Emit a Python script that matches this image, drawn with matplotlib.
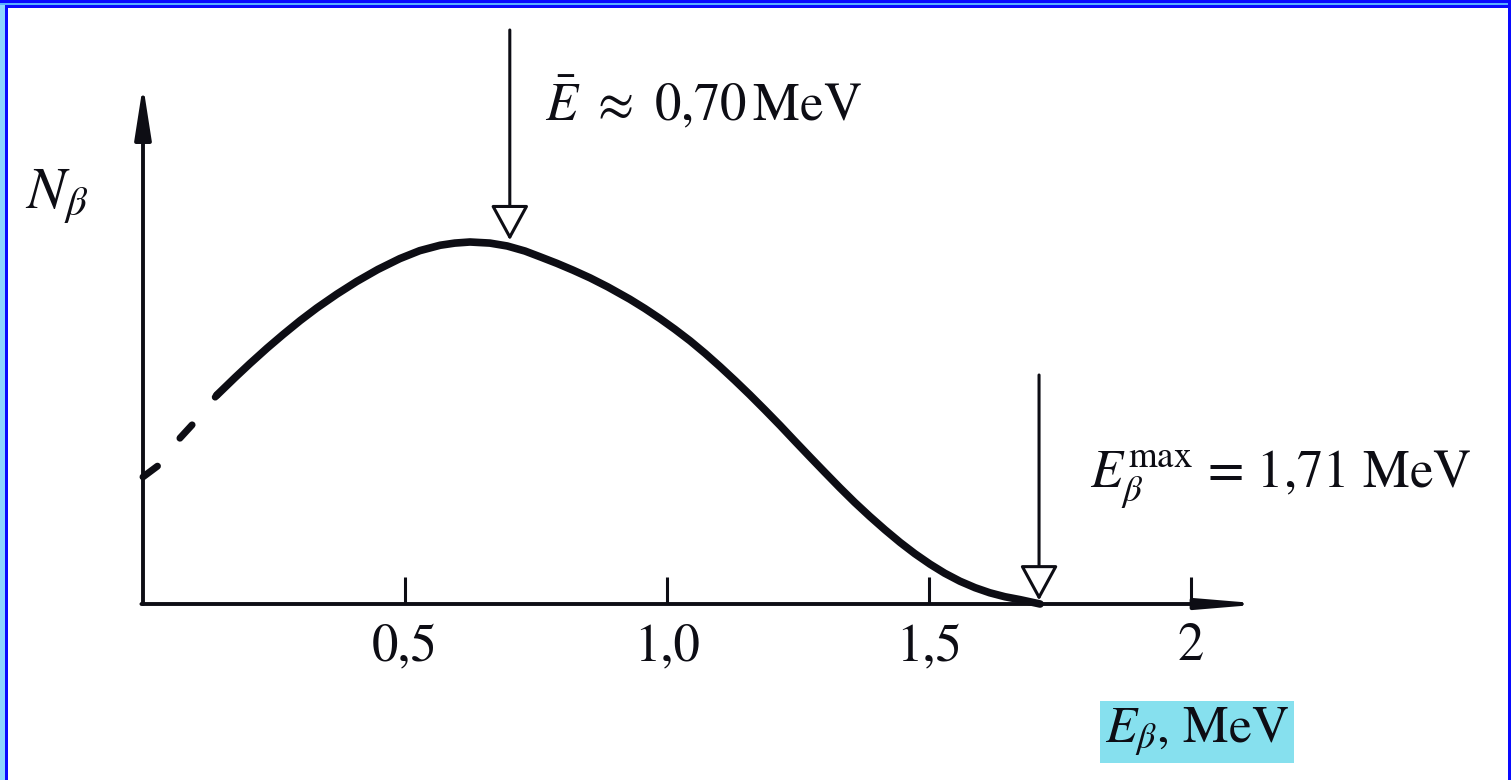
import numpy as np
import matplotlib.pyplot as plt
from matplotlib.patches import Rectangle

plt.rcParams["font.family"] = ["STIXGeneral", "DejaVu Serif"]
plt.rcParams["mathtext.fontset"] = "stix"
plt.rcParams["lines.scale_dashes"] = False

# beta spectrum of P-32 (arbitrary units, peak = 1)
energy_dash = [0.0, 0.038, 0.071, 0.097, 0.141]
counts_dash = [0.351, 0.392, 0.459, 0.500, 0.577]
energy = [0.141, 0.176, 0.204, 0.237, 0.267, 0.300, 0.332, 0.370, 0.408, 0.448,
          0.490, 0.528, 0.567, 0.595, 0.624, 0.662, 0.695, 0.729, 0.758, 0.790,
          0.821, 0.853, 0.887, 0.929, 0.958, 0.987, 1.015, 1.044, 1.073, 1.101,
          1.130, 1.158, 1.187, 1.216, 1.244, 1.273, 1.301, 1.330, 1.358, 1.387,
          1.416, 1.445, 1.473, 1.502, 1.530, 1.559, 1.588, 1.616, 1.645, 1.674,
          1.712]
counts = [0.577, 0.626, 0.664, 0.707, 0.744, 0.783, 0.818, 0.856, 0.891, 0.924,
          0.954, 0.976, 0.991, 0.997, 1.000, 0.997, 0.989, 0.975, 0.959, 0.941,
          0.922, 0.901, 0.876, 0.842, 0.816, 0.788, 0.759, 0.727, 0.692, 0.656,
          0.617, 0.578, 0.536, 0.493, 0.450, 0.406, 0.364, 0.321, 0.281, 0.242,
          0.205, 0.170, 0.139, 0.110, 0.085, 0.063, 0.045, 0.031, 0.020, 0.012,
          0.0]
tick_pos = [0.5, 1.0, 1.5, 2.0]
tick_lab = ["0,5", "1,0", "1,5", "2"]
e_mean = 0.70
e_max = 1.71

W, H = 1511, 780
X0, Y0 = 143, 604      # origin in pixels
SX, SY = 524, 362      # pixels per MeV / per count unit

fig = plt.figure(figsize=(W / 100, H / 100), dpi=100)
fig.patch.set_facecolor("white")
ax = fig.add_axes([0, 0, 1, 1])
ax.set_xlim(-X0 / SX, (W - X0) / SX)
ax.set_ylim(-(H - Y0) / SY, Y0 / SY)
ax.axis("off")


def ny(py):
    return (Y0 - py) / SY


def ex(px):
    return (px - X0) / SX


def prect(x, y, w, h, c):
    fig.add_artist(Rectangle((x / W, 1 - (y + h) / H), w / W, h / H,
                             transform=fig.transFigure, color=c, lw=0, zorder=10))


# frame
prect(0, 0, 5, H, "#8fd6ff")
prect(5, 5, 3, H, "#0a0aff")
prect(0, 0, W, 3, "#0a0aff")
prect(0, 3, W, 2, "#5ab0ff")
prect(5, 5, W, 3, "#0a0aff")
prect(W - 3, 0, 3, H, "#0a0aff")

k = "#0d0d14"
# axes with arrows
ax.annotate("", xy=(0, ny(85)), xytext=(0, 0),
            arrowprops=dict(arrowstyle="-|>,head_length=1.6,head_width=0.25",
                            color=k, lw=2.8, mutation_scale=20, shrinkA=0, shrinkB=0))
ax.annotate("", xy=(ex(1265), 0), xytext=(-0.003, 0),
            arrowprops=dict(arrowstyle="-|>,head_length=1.8,head_width=0.15",
                            color=k, lw=2.8, mutation_scale=20, shrinkA=0, shrinkB=0))
ax.vlines(tick_pos, 0, 0.075, color=k, lw=2.2)
for t, lab in zip(tick_pos, tick_lab):
    ax.text(t, ny(660), lab, ha="center", va="baseline", fontsize=38, color=k)

# spectrum
ax.plot(energy_dash, counts_dash, color=k, lw=5, dashes=(13, 26),
        dash_capstyle="round")
ax.plot(energy, counts, color=k, lw=5.5, solid_capstyle="round",
        solid_joinstyle="round")

# markers for mean and endpoint energy
head = dict(arrowstyle="-|>,head_length=1.1,head_width=0.6", fc="white",
            ec=k, lw=2.2, mutation_scale=20, shrinkA=0, shrinkB=0)
n_mean = np.interp(e_mean, energy, counts)
ax.annotate("", xy=(e_mean, n_mean + 0.018), xytext=(e_mean, ny(30)), arrowprops=head)
ax.annotate("", xy=(e_max, 0.01), xytext=(e_max, ny(375)), arrowprops=head)

ax.text(e_mean + ex(178), ny(120), r"$\bar{E}\ \approx\ 0{,}70\,\mathrm{MeV}$",
        fontsize=38, va="baseline", color=k)
ax.text(ex(25), ny(208), r"$N_\beta$", fontsize=42, va="baseline", color=k)
ax.text(ex(1090), ny(487), r"$E_\beta^{\rm max}$ = 1,71 MeV", fontsize=38,
        va="baseline", color=k)
ax.text(ex(1105), ny(742), r"$E_\beta$, MeV", fontsize=37, va="baseline", color=k,
        bbox=dict(boxstyle="square,pad=0.1", fc="#86e0ee", ec="none"))

fig.savefig("out.png", dpi=100)
